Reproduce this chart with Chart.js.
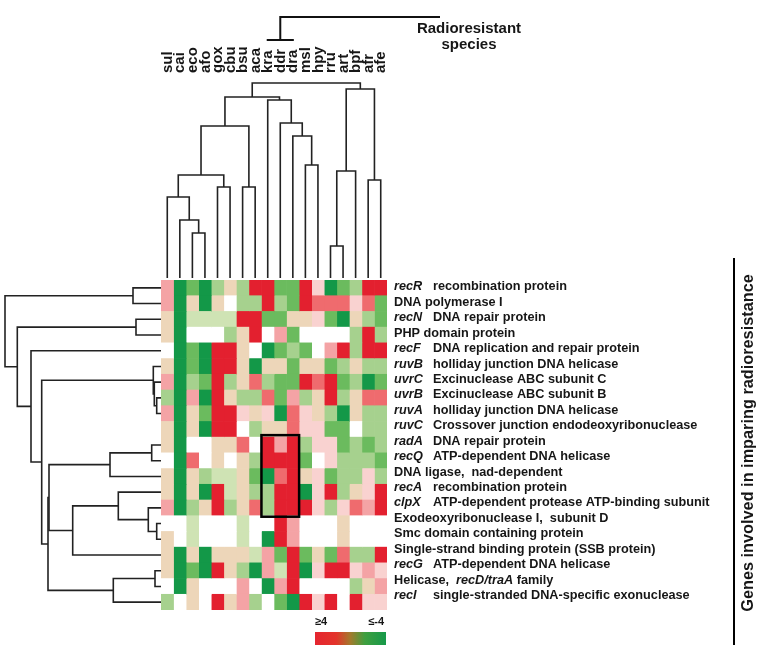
<!DOCTYPE html>
<html><head><meta charset="utf-8">
<script src="https://cdn.jsdelivr.net/npm/chart.js@4.4.1/dist/chart.umd.min.js"></script>
<style>
html,body{margin:0;padding:0;background:#fff;}
#wrap{position:relative;width:760px;height:649px;overflow:hidden;}
.layer{position:absolute;left:0;top:0;width:760px;height:649px;}
</style></head><body>
<div id="wrap">
<div class="layer"><canvas id="heat"></canvas></div>
<div class="layer"><canvas id="dendTop"></canvas></div>
<div class="layer"><canvas id="dendLeft"></canvas></div>
</div>
<script>
// ---------------- data ----------------
const species = ['sul','cai','eco','afo','gox','cbu','bsu','aca','kra','ddr','dra','msl','hpy','rru','art','bpf','afr','afe'];
const radioresistant = ['kra','ddr','dra'];
// "_x_" = italic, "\t" = tab stop after gene symbol
const geneLabels = [
  '_recR_\trecombination protein',
  'DNA polymerase I',
  '_recN_\tDNA repair protein',
  'PHP domain protein',
  '_recF_\tDNA replication and repair protein',
  '_ruvB_\tholliday junction DNA helicase',
  '_uvrC_\tExcinuclease ABC subunit C',
  '_uvrB_\tExcinuclease ABC subunit B',
  '_ruvA_\tholliday junction DNA helicase',
  '_ruvC_\tCrossover junction endodeoxyribonuclease',
  '_radA_\tDNA repair protein',
  '_recQ_\tATP-dependent DNA helicase',
  'DNA ligase,  nad-dependent',
  '_recA_\trecombination protein',
  '_clpX_\tATP-dependent protease ATP-binding subunit',
  'Exodeoxyribonuclease I,  subunit D',
  'Smc domain containing protein',
  'Single-strand binding protein (SSB protein)',
  '_recG_\tATP-dependent DNA helicase',
  'Helicase,  _recD/traA_ family',
  '_recI_\tsingle-stranded DNA-specific exonuclease'
];
const legendLabels = ['\u22654', '\u2264-4'];
// log-ratio values (>=4 red ... <=-4 green), one array per gene row, columns in species order
const heatValues = [
  [2,-4,-3.3,-4,-2.6,-1,-2.6,4,4,-3.3,-3.3,4,1,-4,-3.3,-2.6,4,4],
  [2,-4,-1,-4,-1,0,-2.6,-2.6,4,-2.6,-3.3,4,3,3,3,1,3,-3.3],
  [-1,-4,-2,-2,-2,-2,4,4,-3.3,-3.3,-1,-1,1,-3.3,-4,-1,-2.6,-3.3],
  [-1,-4,0,0,0,-2.6,-1,4,0,2,-3.3,0,0,0,0,-2.6,4,-2.6],
  [0,-4,-3.3,-4,4,4,-1,0,-4,-3.3,-2.6,-3.3,0,2,4,-2.6,4,4],
  [-1,-4,-3.3,-4,4,4,-1,-4,-1,-1,-3.3,-1,-1,-3.3,-2.6,-1,-2.6,-2.6],
  [2,-4,-2.6,-3.3,4,-2.6,-1,3,-2.6,-3.3,-3.3,4,3,4,-3.3,-2.6,-4,-3.3],
  [-2.6,-4,2,-4,4,-1,-2.6,-2.6,3,-3.3,2,-2.6,-1,4,-2.6,-1,3,3],
  [2,-4,-1,-3.3,4,4,1,-1,1,-4,3,1,-1,-2.6,-4,-1,-2.6,-2.6],
  [-1,-4,-1,-4,4,4,0,-2.6,-1,-1,3,1,1,-3.3,-3.3,0,-2.6,-2.6],
  [-1,-4,0,0,-1,-1,3,0,4,2,4,-2.6,1,1,-3.3,-2.6,-3.3,-2.6],
  [0,-4,3,0,-1,0,-1,-2.6,4,4,4,-3.3,0,1,-2.6,-2.6,-2.6,-3.3],
  [-1,-4,-1,-2.6,-2,-2,-1,-3.3,-4,3,4,-1,1,-3.3,-2.6,-2.6,1,-2.6],
  [-1,-4,-1,-4,4,-2,-1,-2.6,-2.6,4,4,-4,1,4,-2.6,-1,1,4],
  [2,-4,-2.6,-1,4,-2.6,-1,3,-2.6,4,4,4,1,-2.6,1,3,2,4],
  [0,0,-2,0,0,0,-2,0,0,4,2,0,0,0,-1,0,0,0],
  [-1,0,-2,0,0,0,-2,0,-4,4,2,0,0,0,-1,0,0,0],
  [-1,-4,-1,-4,-1,-1,-1,-2,2,-3.3,4,-3.3,-1,-3.3,3,-2.6,-2.6,4],
  [-1,-4,-3.3,-4,4,-1,-2.6,-4,2,-2,4,-4,1,4,4,1,2,1],
  [0,-4,-1,0,0,0,2,0,-4,2,4,0,0,0,0,-2.6,-1,2],
  [-2.6,0,-1,0,4,-1,2,-2.6,0,-3.3,-4,4,1,4,0,4,1,1]
];
// column (species) clustering: [nodeA, nodeB, distance]; leaves 0..17, merges 18..
const colLinkage = [
  [2,3,45],[1,18,58],[0,19,81],[4,5,91],[20,21,103],[6,7,91],[22,23,152],
  [11,12,113],[10,25,142],[9,26,155],[8,27,178],[24,28,181],
  [13,14,32],[30,15,107],[16,17,98],[31,32,189],[29,33,195]
];
// row (gene) clustering: leaves 0..20, merges 21..
const rowLinkage = [
  [0,1,28],[2,3,25],[7,8,4.3],[6,23,6.7],[5,24,7.7],[10,11,9.3],[26,12,51],
  [15,16,4.3],[14,28,12.7],[13,29,42.7],[30,17,88.3],[27,31,112],
  [18,19,6],[33,20,47.7],[32,34,113],[25,35,119.3],[4,36,130],[22,37,143.7],[21,38,156]
];

// ---------------- styling helpers ----------------
const FONT = "'Liberation Sans', Arial, Helvetica, sans-serif";
const INK = '#161616';
const colorStops = [[-4,'#139848'],[-3.3,'#6bbb5e'],[-2.6,'#a6d18e'],[-2,'#cfe3b4'],[-1,'#edd6b9'],[0,'#ffffff'],[1,'#f9d2d0'],[2,'#f4a3a5'],[3,'#ef6b6e'],[4,'#e3202f']];
function hex2rgb(h){return [parseInt(h.slice(1,3),16),parseInt(h.slice(3,5),16),parseInt(h.slice(5,7),16)];}
function valueColor(v){
  v = Math.max(-4, Math.min(4, v));
  for (let i=0;i<colorStops.length-1;i++){
    const [a,ca]=colorStops[i],[b,cb]=colorStops[i+1];
    if (v>=a && v<=b){
      const t=(v-a)/(b-a), A=hex2rgb(ca), B=hex2rgb(cb);
      return 'rgb('+A.map((x,k)=>Math.round(x+(B[k]-x)*t)).join(',')+')';
    }
  }
  return '#fff';
}
function dendroSegments(linkage, nLeaves){
  const pos=[], hgt=[], segs=[];
  for (let i=0;i<nLeaves;i++){pos.push(i+0.5);hgt.push(0);}
  linkage.forEach(([a,b,h])=>{
    segs.push([[pos[a],hgt[a]],[pos[a],h],[pos[b],h],[pos[b],hgt[b]]]);
    pos.push((pos[a]+pos[b])/2); hgt.push(h);
  });
  return segs;
}
const baseOpts = {
  responsive:true, maintainAspectRatio:false, animation:false, events:[],
  plugins:{legend:{display:false}, tooltip:{enabled:false}}
};

// ---------------- heatmap ----------------
function drawRich(ctx, text, x, y, size){
  let cx = x;
  const parts = text.split('_');
  parts.forEach((p,k)=>{
    if (!p) return;
    ctx.font = (k%2===1?'italic ':'')+'bold '+size+'px '+FONT;
    ctx.fillText(p, cx, y);
    cx += ctx.measureText(p).width;
  });
}
const heatDecor = {
  id:'heatDecor',
  afterDatasetsDraw(chart){
    const {ctx} = chart, xs = chart.scales.x, ys = chart.scales.y;
    const band = ys.getPixelForValue(1) - ys.getPixelForValue(0);
    // box around radioresistant block
    const c0 = species.indexOf(radioresistant[0]), c1 = species.indexOf(radioresistant[radioresistant.length-1])+1;
    const bx0 = xs.getPixelForValue(c0), bx1 = xs.getPixelForValue(c1);
    const by0 = ys.getPixelForValue(10)-band/2-2, by1 = ys.getPixelForValue(14)+band/2+1;
    ctx.save();
    ctx.lineWidth = 2.5; ctx.strokeStyle = '#000';
    ctx.strokeRect(bx0, by0, bx1-bx0, by1-by0);
    // gene labels
    ctx.fillStyle = INK; ctx.textBaseline = 'middle';
    const lx = xs.right + 7;
    geneLabels.forEach((lab,i)=>{
      const y = ys.getPixelForValue(i) - 1 - i*0.28;
      const t = lab.split('\t');
      drawRich(ctx, t[0], lx, y, 12.7);
      if (t.length>1) drawRich(ctx, t[1], lx+39, y, 12.7);
    });
    // side bar and title
    ctx.strokeStyle = '#000'; ctx.lineWidth = 2;
    ctx.beginPath(); ctx.moveTo(734, 258); ctx.lineTo(734, 645); ctx.stroke();
    ctx.save(); ctx.translate(749, 443); ctx.rotate(-Math.PI/2);
    ctx.textAlign = 'center'; ctx.font = 'bold 16.3px '+FONT;
    ctx.fillText('Genes involved in imparing radioresistance', 0, 0);
    ctx.restore();
    // colour legend
    const gx0 = 315, gx1 = 386, gy0 = 632, gy1 = 645;
    const grad = ctx.createLinearGradient(gx0,0,gx1,0);
    grad.addColorStop(0,'#e52530'); grad.addColorStop(0.3,'#e3342a');
    grad.addColorStop(0.5,'#a27a2c'); grad.addColorStop(0.7,'#3f9f3f'); grad.addColorStop(1,'#16994a');
    ctx.fillStyle = grad; ctx.fillRect(gx0, gy0, gx1-gx0, gy1-gy0);
    ctx.fillStyle = INK; ctx.font = 'bold 11px '+FONT;
    ctx.textAlign = 'left'; ctx.fillText(legendLabels[0], gx0, 622);
    ctx.textAlign = 'right'; ctx.fillText(legendLabels[1], gx1-2, 622);
    ctx.restore();
  }
};
new Chart(document.getElementById('heat'), {
  type:'bar',
  data:{
    labels: geneLabels,
    datasets: species.map((sp,c)=>({
      label: sp,
      data: heatValues.map(()=>[c, c+1]),
      backgroundColor: heatValues.map(row=>valueColor(row[c])),
      borderWidth:0, barPercentage:1, categoryPercentage:1, grouped:false
    }))
  },
  options:Object.assign({}, baseOpts, {
    indexAxis:'y',
    layout:{padding:{left:161, right:373, top:280, bottom:39}},
    scales:{
      x:{type:'linear', min:0, max:species.length, display:false},
      y:{type:'category', display:false}
    }
  }),
  plugins:[heatDecor]
});

// ---------------- top dendrogram ----------------
const lineStyle = {borderColor:'#222', borderWidth:1.6, pointRadius:0, fill:false, tension:0, clip:false, showLine:true};
const topDecor = {
  id:'topDecor',
  afterDatasetsDraw(chart){
    const {ctx} = chart, xs = chart.scales.x;
    ctx.save();
    ctx.fillStyle = INK; ctx.font = 'bold 15px '+FONT;
    ctx.textAlign = 'left'; ctx.textBaseline = 'middle';
    species.forEach((sp,c)=>{
      ctx.save(); ctx.translate(xs.getPixelForValue(c+0.5)+0.5, 73); ctx.rotate(-Math.PI/2);
      ctx.fillText(sp, 0, 0); ctx.restore();
    });
    // radioresistant bracket
    const i0 = species.indexOf(radioresistant[0]), i2 = species.indexOf(radioresistant[radioresistant.length-1]);
    const xa = xs.getPixelForValue(i0+0.5)-1, xb = xs.getPixelForValue(i2+0.5)+1;
    const xm = xs.getPixelForValue((i0+i2)/2+0.5);
    ctx.strokeStyle = '#111'; ctx.lineWidth = 2;
    ctx.beginPath();
    ctx.moveTo(xa, 40); ctx.lineTo(xb, 40);
    ctx.moveTo(xm, 40); ctx.lineTo(xm, 17); ctx.lineTo(440, 17);
    ctx.stroke();
    ctx.textAlign = 'center'; ctx.font = 'bold 15px '+FONT;
    ctx.fillText('Radioresistant', 469, 29);
    ctx.fillText('species', 469, 45);
    ctx.restore();
  }
};
new Chart(document.getElementById('dendTop'), {
  type:'line',
  data:{datasets: dendroSegments(colLinkage, species.length).map(s=>Object.assign({
    data: s.map(([p,h])=>({x:p, y:h}))}, lineStyle))},
  options:Object.assign({}, baseOpts, {
    layout:{padding:{left:161, right:373, top:83, bottom:371}},
    scales:{
      x:{type:'linear', min:0, max:species.length, display:false},
      y:{type:'linear', min:0, max:195, display:false}
    }
  }),
  plugins:[topDecor]
});

// ---------------- left dendrogram ----------------
new Chart(document.getElementById('dendLeft'), {
  type:'line',
  data:{datasets: dendroSegments(rowLinkage, geneLabels.length).map(s=>Object.assign({
    data: s.map(([p,h])=>({x:h, y:p}))}, lineStyle))},
  options:Object.assign({}, baseOpts, {
    layout:{padding:{left:5, right:599, top:280, bottom:39}},
    scales:{
      x:{type:'linear', min:0, max:156, reverse:true, display:false},
      y:{type:'linear', min:0, max:geneLabels.length, reverse:true, display:false}
    }
  })
});
</script>
</body></html>
